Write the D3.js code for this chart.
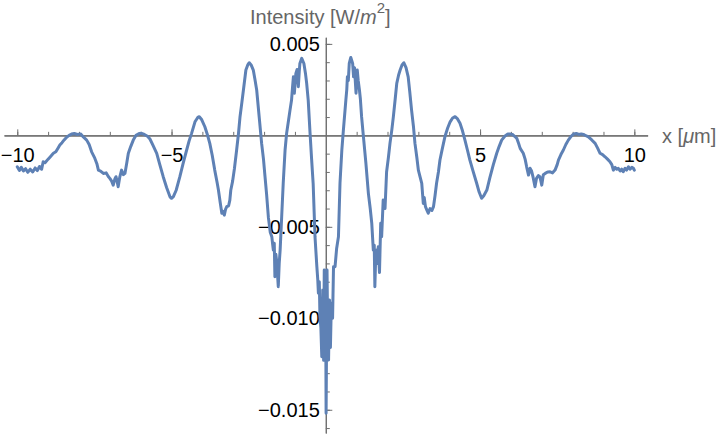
<!DOCTYPE html>
<html>
<head>
<meta charset="utf-8">
<script src="https://cdn.jsdelivr.net/npm/d3@7"></script>
<style>
  html, body { margin: 0; padding: 0; background: #fff; }
  svg { display: block; }
  text { font-family: "Liberation Sans", Arial, Helvetica, sans-serif; }
</style>
</head>
<body>
<svg id="chart" width="722" height="440"></svg>
<script>
// ---- data ----
const xValues = [
  -10.00,-9.93,-9.87,-9.80,-9.73,-9.66,-9.58,-9.50,-9.42,-9.35,-9.28,-9.21,-9.16,-9.10,-9.00,-8.92,-8.83,-8.75,-8.68,-8.62,
  -8.55,-8.48,-8.40,-8.32,-8.24,-8.15,-8.05,-7.95,-7.85,-7.75,-7.67,-7.59,-7.50,-7.42,-7.37,-7.30,-7.21,-7.12,-7.05,-7.00,
  -6.94,-6.89,-6.84,-6.80,-6.76,-6.73,-6.68,-6.62,-6.56,-6.51,-6.45,-6.40,-6.32,-6.24,-6.15,-6.05,-5.97,-5.88,-5.78,-5.70,
  -5.60,-5.48,-5.38,-5.27,-5.16,-5.05,-5.00,-4.94,-4.85,-4.73,-4.62,-4.51,-4.43,-4.35,-4.24,-4.15,-4.10,-4.02,-3.92,-3.84,
  -3.76,-3.68,-3.60,-3.52,-3.48,-3.42,-3.37,-3.33,-3.29,-3.25,-3.21,-3.15,-3.11,-3.08,-3.02,-2.96,-2.89,-2.83,-2.78,-2.72,
  -2.67,-2.59,-2.53,-2.48,-2.42,-2.35,-2.30,-2.24,-2.16,-2.08,-2.02,-1.97,-1.92,-1.86,-1.80,-1.75,-1.72,-1.70,-1.67,-1.65,
  -1.62,-1.59,-1.54,-1.51,-1.48,-1.43,-1.38,-1.32,-1.27,-1.21,-1.16,-1.11,-1.08,-1.05,-1.02,-0.97,-0.93,-0.89,-0.86,-0.84,
  -0.78,-0.74,-0.71,-0.66,-0.62,-0.57,-0.51,-0.46,-0.41,-0.35,-0.29,-0.26,-0.24,-0.21,-0.19,-0.16,-0.13,-0.10,-0.07,-0.05,
  -0.03,0.00,0.01,0.04,0.06,0.09,0.12,0.15,0.18,0.22,0.25,0.30,0.35,0.41,0.46,0.52,0.57,0.61,0.65,0.68,
  0.70,0.73,0.76,0.81,0.84,0.87,0.90,0.93,0.98,1.02,1.05,1.09,1.12,1.16,1.22,1.30,1.38,1.44,1.49,1.54,
  1.57,1.59,1.62,1.65,1.68,1.70,1.74,1.78,1.81,1.86,1.92,1.97,2.03,2.08,2.14,2.19,2.25,2.30,2.36,2.41,
  2.47,2.53,2.60,2.67,2.72,2.78,2.84,2.89,2.95,3.00,3.06,3.11,3.16,3.19,3.23,3.28,3.32,3.38,3.44,3.49,
  3.54,3.59,3.65,3.70,3.78,3.86,3.95,4.03,4.11,4.19,4.27,4.35,4.43,4.51,4.59,4.67,4.78,4.89,4.97,5.05,
  5.12,5.22,5.32,5.43,5.54,5.62,5.70,5.80,5.90,5.97,6.05,6.12,6.19,6.25,6.30,6.40,6.46,6.51,6.57,6.62,
  6.67,6.72,6.78,6.83,6.89,6.94,7.00,7.05,7.11,7.19,7.27,7.35,7.43,7.50,7.54,7.62,7.70,7.78,7.86,7.95,
  8.03,8.12,8.20,8.28,8.35,8.43,8.51,8.62,8.73,8.81,8.89,8.97,9.05,9.13,9.21,9.27,9.32,9.38,9.43,9.48,
  9.54,9.59,9.64,9.70,9.75,9.81,9.86,9.92,9.97,10.00
];
const intensityValues = [
  -1.72e-3,-1.92e-3,-1.75e-3,-1.95e-3,-1.82e-3,-2.02e-3,-1.85e-3,-2.00e-3,-1.78e-3,-1.93e-3,-1.70e-3,-1.85e-3,-1.44e-3,-1.50e-3,-1.30e-3,-1.15e-3,-0.98e-3,-0.90e-3,-0.70e-3,-0.53e-3,
  -0.40e-3,-0.25e-3,-0.10e-3,0.00e-3,0.07e-3,0.10e-3,0.05e-3,0.08e-3,-0.10e-3,-0.26e-3,-0.50e-3,-0.90e-3,-1.20e-3,-1.55e-3,-1.90e-3,-1.95e-3,-2.08e-3,-2.05e-3,-2.25e-3,-2.35e-3,
  -2.50e-3,-2.72e-3,-2.40e-3,-2.26e-3,-2.55e-3,-2.81e-3,-2.30e-3,-1.90e-3,-2.15e-3,-2.08e-3,-1.50e-3,-0.98e-3,-0.60e-3,-0.26e-3,0.00e-3,0.10e-3,0.11e-3,0.05e-3,-0.05e-3,-0.20e-3,
  -0.55e-3,-0.98e-3,-1.60e-3,-2.26e-3,-2.85e-3,-3.36e-3,-3.44e-3,-3.35e-3,-3.00e-3,-2.26e-3,-1.50e-3,-0.80e-3,-0.30e-3,0.11e-3,0.74e-3,0.98e-3,1.02e-3,0.85e-3,0.47e-3,0.05e-3,
  -0.44e-3,-1.10e-3,-1.90e-3,-2.60e-3,-2.99e-3,-3.70e-3,-4.26e-3,-4.15e-3,-4.36e-3,-4.05e-3,-3.90e-3,-3.85e-3,-3.54e-3,-3.00e-3,-2.50e-3,-1.80e-3,-0.80e-3,0.10e-3,1.02e-3,1.80e-3,
  2.48e-3,3.57e-3,3.85e-3,3.97e-3,3.85e-3,3.57e-3,3.10e-3,2.48e-3,1.02e-3,-0.44e-3,-1.30e-3,-2.26e-3,-3.20e-3,-4.50e-3,-5.30e-3,-5.54e-3,-6.00e-3,-6.27e-3,-5.90e-3,-7.73e-3,
  -6.50e-3,-6.90e-3,-8.27e-3,-7.00e-3,-6.27e-3,-4.45e-3,-2.62e-3,-0.80e-3,0.11e-3,0.80e-3,1.38e-3,1.93e-3,2.60e-3,3.20e-3,2.30e-3,3.39e-3,3.60e-3,2.66e-3,3.50e-3,3.93e-3,
  4.21e-3,4.05e-3,3.93e-3,3.40e-3,2.84e-3,1.93e-3,0.11e-3,-1.30e-3,-2.62e-3,-5.54e-3,-7.18e-3,-7.90e-3,-8.63e-3,-8.00e-3,-9.91e-3,-10.50e-3,-12.10e-3,-8.45e-3,-12.30e-3,-7.36e-3,
  -9.55e-3,-11.00e-3,-15.19e-3,-7.36e-3,-10.50e-3,-12.28e-3,-9.00e-3,-11.60e-3,-9.18e-3,-10.00e-3,-7.18e-3,-7.18e-3,-6.20e-3,-5.54e-3,-2.62e-3,-0.80e-3,0.29e-3,1.10e-3,1.93e-3,2.50e-3,
  3.20e-3,3.00e-3,3.93e-3,4.26e-3,4.10e-3,3.93e-3,3.20e-3,3.70e-3,2.30e-3,3.57e-3,3.00e-3,2.48e-3,2.00e-3,1.02e-3,-0.08e-3,-1.53e-3,-3.17e-3,-4.00e-3,-4.81e-3,-6.27e-3,
  -6.00e-3,-8.27e-3,-6.50e-3,-6.27e-3,-7.00e-3,-6.09e-3,-7.50e-3,-4.81e-3,-5.54e-3,-3.54e-3,-4.00e-3,-2.00e-3,-1.20e-3,-0.44e-3,0.30e-3,1.02e-3,2.00e-3,2.84e-3,3.30e-3,3.57e-3,
  3.85e-3,3.97e-3,3.70e-3,3.20e-3,2.40e-3,1.38e-3,0.50e-3,-0.44e-3,-1.20e-3,-1.90e-3,-2.30e-3,-2.62e-3,-3.72e-3,-3.40e-3,-3.90e-3,-4.10e-3,-4.26e-3,-4.00e-3,-4.10e-3,-3.90e-3,
  -3.30e-3,-2.62e-3,-2.00e-3,-1.35e-3,-0.70e-3,-0.08e-3,0.40e-3,0.74e-3,0.95e-3,1.02e-3,0.90e-3,0.66e-3,0.25e-3,-0.26e-3,-0.80e-3,-1.35e-3,-2.00e-3,-2.62e-3,-3.10e-3,-3.44e-3,
  -3.30e-3,-2.99e-3,-2.30e-3,-1.60e-3,-0.98e-3,-0.60e-3,-0.26e-3,-0.05e-3,0.07e-3,0.07e-3,0.05e-3,-0.05e-3,-0.16e-3,-0.45e-3,-0.71e-3,-0.98e-3,-1.30e-3,-1.72e-3,-2.17e-3,-1.80e-3,
  -1.95e-3,-2.30e-3,-2.81e-3,-2.35e-3,-2.20e-3,-2.26e-3,-2.72e-3,-2.15e-3,-2.08e-3,-2.00e-3,-1.99e-3,-2.05e-3,-1.90e-3,-1.60e-3,-1.35e-3,-1.05e-3,-0.80e-3,-0.50e-3,-0.26e-3,-0.05e-3,
  0.07e-3,0.10e-3,0.05e-3,0.08e-3,0.05e-3,-0.02e-3,-0.08e-3,-0.25e-3,-0.44e-3,-0.70e-3,-0.98e-3,-1.05e-3,-1.17e-3,-1.30e-3,-1.44e-3,-1.60e-3,-1.90e-3,-1.75e-3,-1.85e-3,-1.80e-3,
  -1.95e-3,-1.85e-3,-1.99e-3,-1.80e-3,-1.90e-3,-1.72e-3,-1.85e-3,-1.75e-3,-1.80e-3,-1.90e-3
];
const xMajorTicks = [-10, -5, 5, 10];
const xMinorTicks = [-10,-9,-8,-7,-6,-5,-4,-3,-2,-1,1,2,3,4,5,6,7,8,9,10];
const yMajorTicks = [0.005, -0.005, -0.010, -0.015];
const yMinorTicks = [0.005,0.004,0.003,0.002,0.001,-0.001,-0.002,-0.003,-0.004,-0.005,-0.006,-0.007,-0.008,-0.009,-0.010,-0.011,-0.012,-0.013,-0.014,-0.015,-0.016];
const xDomain = [-10.43, 10.43];
const yDomain = [-0.01627, 0.00536];

// ---- drawing ----
const svg = d3.select("#chart");
const x = d3.scaleLinear().domain(xDomain).range([4, 647.6]);
const y = d3.scaleLinear().domain(yDomain).range([433, 37.3]);

const axisColor = "#6f6f6f";
const x0 = x(0), y0 = y(0);

// x axis (ticks pointing up, labels below)
const gxMinor = svg.append("g").attr("transform", `translate(0,${y0})`)
  .call(d3.axisBottom(x).tickValues(xMinorTicks).tickSize(-3.5).tickFormat("").tickSizeOuter(0));
const gx = svg.append("g").attr("transform", `translate(0,${y0})`)
  .call(d3.axisBottom(x).tickValues(xMajorTicks).tickSize(-6).tickPadding(12)
    .tickFormat(d3.format("d")).tickSizeOuter(0));

// y axis (ticks pointing right, labels left)
const gyMinor = svg.append("g").attr("transform", `translate(${x0},0)`)
  .call(d3.axisLeft(y).tickValues(yMinorTicks).tickSize(-4).tickFormat("").tickSizeOuter(0));
const gy = svg.append("g").attr("transform", `translate(${x0},0)`)
  .call(d3.axisLeft(y).tickValues(yMajorTicks).tickSize(-6.5).tickPadding(6)
    .tickFormat(d3.format(".3f")).tickSizeOuter(0));

[gxMinor, gx, gyMinor, gy].forEach(g => {
  g.selectAll("path.domain").attr("stroke", axisColor).attr("stroke-width", 1.1);
  g.selectAll(".tick line").attr("stroke", axisColor).attr("stroke-width", 1);
  g.selectAll(".tick text").attr("fill", "#000").attr("font-size", 20)
    .attr("font-family", "'Liberation Sans', Arial, Helvetica, sans-serif");
});

// curve
const pts = xValues.map((xv, i) => [xv, intensityValues[i]]);
svg.append("path")
  .datum(pts)
  .attr("fill", "none")
  .attr("stroke", "#5E81B5")
  .attr("stroke-width", 3)
  .attr("stroke-linejoin", "round")
  .attr("stroke-linecap", "round")
  .attr("d", d3.line().x(d => x(d[0])).y(d => y(d[1])));

// axis labels
const yl = svg.append("text")
  .attr("x", 250).attr("y", 24)
  .attr("fill", "#666").attr("font-size", 20);
yl.append("tspan").text("Intensity [W/");
yl.append("tspan").attr("font-style", "italic").text("m");
yl.append("tspan").attr("font-size", 15).attr("dy", -11).text("2");
yl.append("tspan").attr("dy", 11).text("]");

const xl = svg.append("text")
  .attr("x", 662).attr("y", 143)
  .attr("fill", "#666").attr("font-size", 20);
xl.append("tspan").text("x [");
xl.append("tspan").attr("font-style", "italic").text("μ");
xl.append("tspan").text("m]");
</script>
</body>
</html>
